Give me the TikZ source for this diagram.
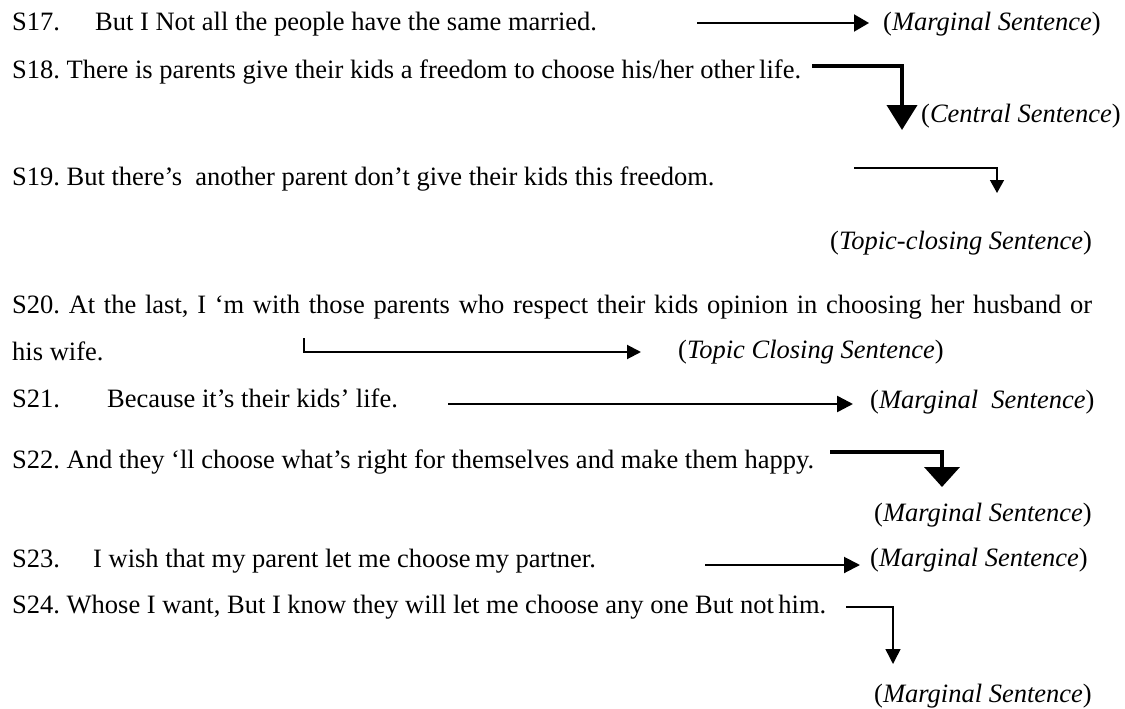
\documentclass[tikz,border=0pt]{standalone}
\usepackage{fontspec}
\setmainfont{Liberation Serif}
\usetikzlibrary{arrows.meta}
\frenchspacing
\begin{document}
\begin{tikzpicture}[x=1pt,y=-1pt,
  sent/.style={anchor=base west,inner sep=0pt,font=\fontsize{26.5}{30}\selectfont},
  arrowhd/.style 2 args={-{Triangle[length=#1,width=#2]}}]
\useasboundingbox (0,0) rectangle (1125,709);
\node[sent] (s17) at (12,31) {\makebox[83pt][l]{S17.}But I Not all the people have the same married.};
\node[sent] (s18) at (12,78) {S18. There is parents give their kids a freedom to choose his/her other\,life.};
\node[sent] (s19) at (12,185) {S19. But there’s\ \ another parent don’t give their kids this freedom.};
\node[sent] (s20) at (12,313) {\makebox[1080pt][s]{S20. At the last, I ‘m with those parents who respect their kids opinion in choosing her husband or}};
\node[sent] (w20) at (12,360) {his wife.};
\node[sent] (s21) at (12,407) {\makebox[95pt][l]{S21.}Because it’s their kids’ life.};
\node[sent] (s22) at (12,468) {S22. And they ‘ll choose what’s right for themselves and make them happy.};
\node[sent] (s23) at (12,567) {\makebox[81pt][l]{S23.}I wish that my parent let me choose\,my partner.};
\node[sent] (s24) at (12,613) {S24. Whose I want, But I know they will let me choose any one But not\,him.};
\node[sent] (l17) at (883,31) {(\textit{Marginal Sentence})};
\node[sent] (l18) at (921,122) {(\textit{Central Sentence})};
\node[sent] (l19) at (830,249) {(\textit{Topic-closing Sentence})};
\node[sent] (l20) at (678,358) {(\textit{Topic Closing Sentence})};
\node[sent] (l21) at (870,408) {(\textit{Marginal\ \ Sentence})};
\node[sent] (l22) at (874,521) {(\textit{Marginal Sentence})};
\node[sent] (l23) at (870,566) {(\textit{Marginal Sentence})};
\node[sent] (l24) at (874,702) {(\textit{Marginal Sentence})};
\coordinate (a17) at (697,23);  \coordinate (t17) at (869,23);
\coordinate (a18) at (812,66);  \coordinate (t18) at (902,130);
\coordinate (a19) at (854,168); \coordinate (t19) at (997,193);
\coordinate (a20) at (304,338); \coordinate (t20) at (641,352);
\coordinate (a21) at (448,404); \coordinate (t21) at (853,404);
\coordinate (a22) at (830,452); \coordinate (t22) at (942,487);
\coordinate (a23) at (705,565); \coordinate (t23) at (860,565);
\coordinate (a24) at (846,607); \coordinate (t24) at (893,664);
\draw[line width=2pt,arrowhd={15pt}{17pt}] (a17) -- (t17);
\draw[line width=4pt,arrowhd={25pt}{30pt}] (a18) -| (t18);
\draw[line width=1.5pt,arrowhd={13pt}{14pt}] (a19) -| (t19);
\draw[line width=2pt,arrowhd={14pt}{14pt}] (a20) |- (t20);
\draw[line width=2.5pt,arrowhd={16pt}{16pt}] (a21) -- (t21);
\draw[line width=4pt,arrowhd={20pt}{35pt}] (a22) -| (t22);
\draw[line width=2pt,arrowhd={16pt}{16pt}] (a23) -- (t23);
\draw[line width=1.5pt,arrowhd={15pt}{15pt}] (a24) -| (t24);
\end{tikzpicture}
\end{document}
